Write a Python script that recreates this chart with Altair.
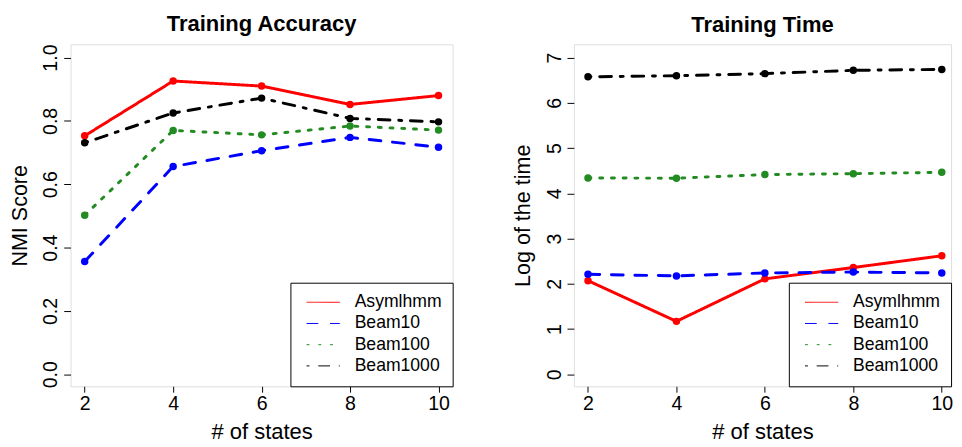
import altair as alt
import pandas as pd

# ---------------- data ----------------
states = [2, 4, 6, 8, 10]
series = ["Asymlhmm", "Beam10", "Beam100", "Beam1000"]

acc_asym = [0.753, 0.926, 0.910, 0.852, 0.880]
acc_b10 = [0.356, 0.656, 0.706, 0.748, 0.717]
acc_b100 = [0.502, 0.770, 0.756, 0.784, 0.771]
acc_b1000 = [0.731, 0.825, 0.872, 0.808, 0.797]

time_asym = [2.07, 1.17, 2.11, 2.36, 2.62]
time_b10 = [2.21, 2.175, 2.24, 2.26, 2.24]
time_b100 = [4.34, 4.335, 4.415, 4.435, 4.465]
time_b1000 = [6.576, 6.600, 6.647, 6.720, 6.740]

acc_ticks = [0.0, 0.2, 0.4, 0.6, 0.8, 1.0]
time_ticks = [0, 1, 2, 3, 4, 5, 6, 7]

# ---------------- styles ----------------
colors = ["#FF0000", "#0000FF", "#228B22", "#000000"]
dashes = [[1, 0], [12, 12], [3, 9], [3, 9, 12, 9]]
FONT = "Arial, Liberation Sans, sans-serif"
PLOT_H = 350


def long_df(vals):
    rows = []
    for name, v in zip(series, vals):
        for s, y in zip(states, v):
            rows.append({"states": s, "value": y, "series": name})
    return pd.DataFrame(rows)


acc_df = long_df([acc_asym, acc_b10, acc_b100, acc_b1000])
time_df = long_df([time_asym, time_b10, time_b100, time_b1000])


def legend():
    return alt.Legend(
        title=None,
        orient="bottom-right",
        offset=0,
        strokeColor="black",
        fillColor="white",
        padding=11,
        symbolType="M-0.41,0H3.59",
        symbolSize=289,
        symbolStrokeWidth=1,
        labelFontSize=18,
        labelFont=FONT,
        labelColor="black",
        labelOffset=36.7,
        rowPadding=3.7,
        cornerRadius=0,
    )


def panel(df, title, ytitle, ydomain, yticks, yfmt, xdomain, width):
    x = alt.X(
        "states:Q",
        scale=alt.Scale(domain=xdomain, nice=False, zero=False),
        axis=alt.Axis(
            values=states, title="# of states", grid=False, domain=False,
            tickSize=6, labelPadding=2, titlePadding=7,
            labelFontSize=20, titleFontSize=22.5, labelFont=FONT, titleFont=FONT,
            titleFontWeight="normal", labelColor="black", titleColor="black",
            tickColor="black", labelFlush=False,
        ),
    )
    y = alt.Y(
        "value:Q",
        scale=alt.Scale(domain=ydomain, nice=False, zero=False),
        axis=alt.Axis(
            values=yticks, format=yfmt, title=ytitle, grid=False, domain=False,
            tickSize=7, labelAngle=270, labelAlign="center",
            labelBaseline="alphabetic", labelPadding=7, titlePadding=10,
            labelFontSize=20, titleFontSize=22, labelFont=FONT, titleFont=FONT,
            titleFontWeight="normal", labelColor="black", titleColor="black",
            tickColor="black", labelFlush=False,
        ),
    )
    color = alt.Color("series:N", scale=alt.Scale(domain=series, range=colors), legend=legend())
    dash = alt.StrokeDash("series:N", scale=alt.Scale(domain=series, range=dashes), legend=legend())

    lines = alt.Chart(df).mark_line(strokeWidth=3, strokeCap="round").encode(
        x=x, y=y, color=color, strokeDash=dash, order="states:Q"
    )
    pts = alt.Chart(df).mark_circle(size=58, opacity=1).encode(
        x=x, y=y,
        color=alt.Color("series:N", scale=alt.Scale(domain=series, range=colors), legend=None),
    )
    return alt.layer(lines, pts).properties(
        width=width,
        height=PLOT_H,
        title=alt.TitleParams(
            title, fontSize=22.5, fontWeight="bold", font=FONT, color="black",
            anchor="middle", offset=8.5, baseline="top",
        ),
    )


left = panel(acc_df, "Training Accuracy", "NMI Score", [-0.038, 1.042],
             acc_ticks, ".1f", [1.68, 10.32], 391)
right = panel(time_df, "Training Time", "Log of the time", [-0.266, 7.296],
              time_ticks, "d", [1.68, 10.21], 386)

chart = (
    alt.hconcat(left, right, spacing=59)
    .resolve_scale(color="independent", strokeDash="independent")
    .resolve_legend(color="independent", strokeDash="independent")
    .properties(padding={"left": 0, "top": 0, "right": 0, "bottom": 0})
    .configure_view(stroke="black", strokeWidth=1)
    .configure(background="white")
)

chart.save("out.html", embed_options={"renderer": "svg", "actions": False})
